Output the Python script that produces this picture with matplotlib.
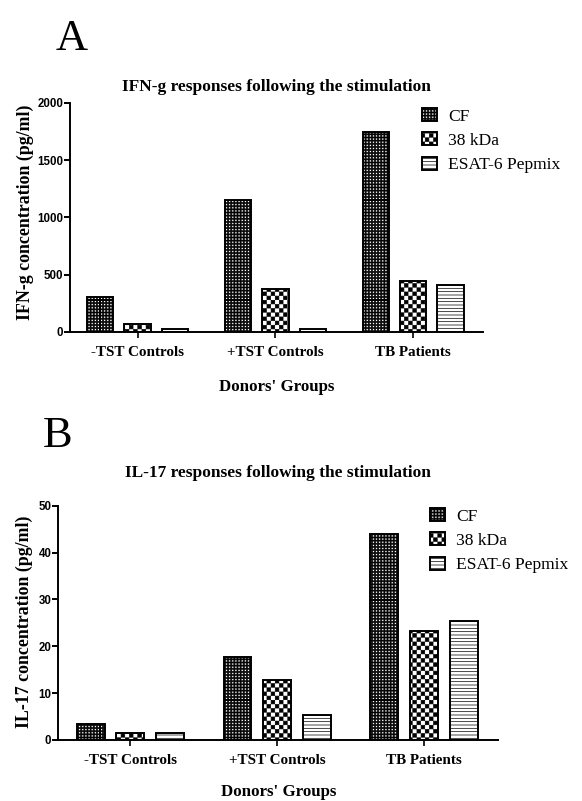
import warnings
import numpy as np
import matplotlib
matplotlib.use('Agg')
import matplotlib.pyplot as plt
import matplotlib.hatch as mhatch
from matplotlib.path import Path

warnings.filterwarnings('ignore')

# ---------------- data ----------------
groups = ['-TST Controls', '+TST Controls', 'TB Patients']
stimuli = ['CF', '38 kDa', 'ESAT-6 Pepmix']

ifng_cf = [306, 1155, 1744]
ifng_38 = [72, 375, 445]
ifng_esat = [25, 25, 413]
ifng_ticks = [0, 500, 1000, 1500, 2000]

il17_cf = [3.4, 17.7, 44.0]
il17_38 = [1.55, 12.8, 23.3]
il17_esat = [1.5, 5.3, 25.3]
il17_ticks = [0, 10, 20, 30, 40, 50]

SERIF = 'Liberation Serif'
SANS = 'Liberation Sans'

plt.rcParams['hatch.linewidth'] = 0.5


# ---------------- custom textures (fine dots / checkerboard) ----------------
class TextureHatch(mhatch.HatchPatternBase):
    def __init__(self, hatch, density):
        polys = []
        if 'c' in hatch:
            # black field with small white holes
            polys.append([(0, 0), (1, 0), (1, 1), (0, 1)])
            n = 32
            p = 1.0 / n
            s = 0.021
            for i in range(n):
                for j in range(n):
                    x0 = i * p + (p - s) / 2
                    y0 = j * p + (p - s) / 2
                    polys.append([(x0, y0), (x0, y0 + s), (x0 + s, y0 + s), (x0 + s, y0)])
        if 'k' in hatch:
            # checkerboard
            n = 24
            p = 1.0 / n
            s = p - 0.006
            for i in range(n):
                for j in range(n):
                    if (i + j) % 2 == 0:
                        x0 = i * p + (p - s) / 2
                        y0 = j * p + (p - s) / 2
                        polys.append([(x0, y0), (x0 + s, y0), (x0 + s, y0 + s), (x0, y0 + s)])
        self.polys = polys
        self.num_vertices = 5 * len(polys)

    def set_vertices_and_codes(self, vertices, codes):
        k = 0
        for poly in self.polys:
            for m, pt in enumerate(poly):
                vertices[k] = pt
                codes[k] = Path.MOVETO if m == 0 else Path.LINETO
                k += 1
            vertices[k] = poly[0]
            codes[k] = Path.CLOSEPOLY
            k += 1


mhatch._hatch_types.append(TextureHatch)

W, H = 582, 801
fig = plt.figure(figsize=(W / 100, H / 100), dpi=100)


def px_rect(left, right, top, bottom):
    return [left / W, 1 - bottom / H, (right - left) / W, (bottom - top) / H]


def panel(ax, cf, kd, es, ticks, ylabel, title, title_y, xlab_y, ylab_xy, leg_xy):
    x = np.arange(len(groups))
    off, w = 0.27, 0.19
    for vals, dx, hatch, lab in [(cf, -off, 'c', stimuli[0]),
                                 (kd, 0.0, 'k', stimuli[1]),
                                 (es, off, '-----', stimuli[2])]:
        ax.bar(x + dx, vals, width=w, color='white', edgecolor='black',
               linewidth=1.4, hatch=hatch, label=lab)
    ax.set_xlim(-0.49, 2.505)
    ax.set_ylim(ticks[0], ticks[-1])
    ax.set_yticks(ticks)
    ax.set_xticks(x)
    ax.set_xticklabels(groups, fontfamily=SERIF, fontweight='bold', fontsize=10.9)
    for lbl in ax.get_yticklabels():
        lbl.set_fontfamily(SANS)
        lbl.set_fontweight('bold')
        lbl.set_fontsize(8.3)
    for s in ['top', 'right']:
        ax.spines[s].set_visible(False)
    for s in ['left', 'bottom']:
        ax.spines[s].set_linewidth(1.4)
    ax.tick_params(axis='y', direction='out', length=4, width=1.4, pad=1)
    ax.tick_params(axis='x', direction='out', length=4, width=1.2, pad=6)

    ax.set_ylabel(ylabel, fontfamily=SERIF, fontweight='bold', fontsize=12.9)
    ax.yaxis.set_label_coords(*ylab_xy)
    ax.yaxis.label.set_va('center')
    ax.set_xlabel("Donors' Groups", fontfamily=SERIF, fontweight='bold', fontsize=12.2)
    ax.xaxis.set_label_coords(0.5, xlab_y)
    ax.xaxis.label.set_va('center')
    ax.set_title(title, y=title_y, pad=0, va='center',
                 fontfamily=SERIF, fontweight='bold', fontsize=12.5)

    ax.legend(loc='upper left', bbox_to_anchor=leg_xy, bbox_transform=fig.transFigure,
              frameon=False, borderpad=0, borderaxespad=0,
              handlelength=0.87, handleheight=0.75, handletextpad=0.63,
              labelspacing=0.45, prop={'family': SERIF, 'size': 12.6})


# Panel A
axA = fig.add_axes(px_rect(70, 483, 102.7, 332))
panel(axA, ifng_cf, ifng_38, ifng_esat, ifng_ticks,
      'IFN-g concentration (pg/ml)', 'IFN-g responses following the stimulation',
      title_y=(332 - 87) / 229.3, xlab_y=-(387 - 332) / 229.3,
      ylab_xy=((25 - 70) / 413, (332 - 212.5) / 229.3),
      leg_xy=(422 / W, 1 - 108 / H))

# Panel B
axB = fig.add_axes(px_rect(58.3, 498.3, 505.7, 740))
panel(axB, il17_cf, il17_38, il17_esat, il17_ticks,
      'IL-17 concentration (pg/ml)', 'IL-17 responses following the stimulation',
      title_y=(740 - 473) / 234.3, xlab_y=-(792 - 740) / 234.3,
      ylab_xy=((24.5 - 58.3) / 440, (740 - 622) / 234.3),
      leg_xy=(430 / W, 1 - 508 / H))

fig.text(56 / W, 1 - 50 / H, 'A', fontfamily=SERIF, fontsize=32, va='baseline', ha='left')
fig.text(43 / W, 1 - 447 / H, 'B', fontfamily=SERIF, fontsize=32, va='baseline', ha='left')

fig.savefig('out.png', dpi=100)
